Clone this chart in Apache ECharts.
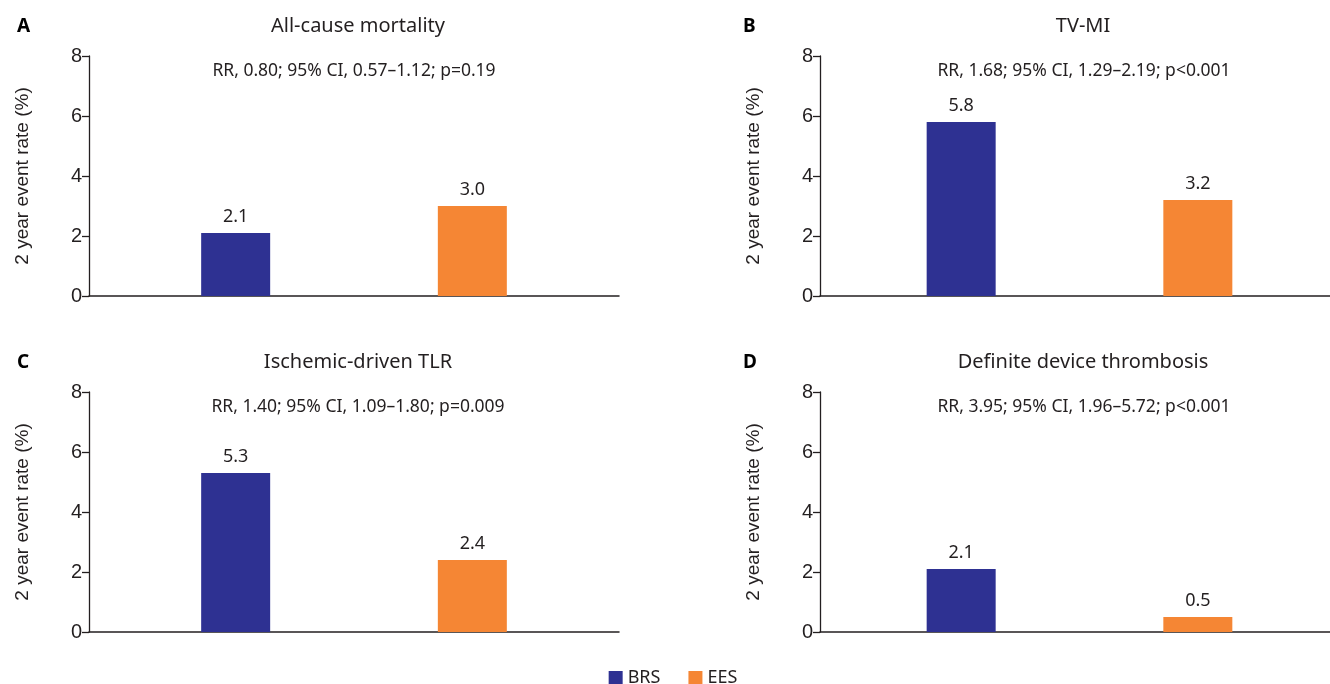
<!DOCTYPE html>
<html>
<head>
<meta charset="utf-8">
<script src="https://cdn.jsdelivr.net/npm/echarts@6/dist/echarts.min.js"></script>
<style>
html,body{margin:0;padding:0;background:#fff;overflow:hidden;}
#c{width:1346px;height:684px;}
</style>
</head>
<body>
<div id="c"></div>
<script>
var panelLetters = ['A', 'B', 'C', 'D'];
var panelTitles = ['All-cause mortality', 'TV-MI', 'Ischemic-driven TLR', 'Definite device thrombosis'];
var panelStats = [
  'RR, 0.80; 95% CI, 0.57\u20131.12; p=0.19',
  'RR, 1.68; 95% CI, 1.29\u20132.19; p<0.001',
  'RR, 1.40; 95% CI, 1.09\u20131.80; p=0.009',
  'RR, 3.95; 95% CI, 1.96\u20135.72; p<0.001'
];
var seriesNames = ['BRS', 'EES'];
var brsValues = [2.1, 5.8, 5.3, 2.1];
var eesValues = [3.0, 3.2, 2.4, 0.5];
var yAxisName = '2 year event rate (%)';
var yMin = 0, yMax = 8, yStep = 2;

var colors = {BRS: '#2E3192', EES: '#F58634'};
var gridLeft = [89, 820, 89, 820];
var gridW = [530, 519, 530, 519];
var gridTop = [56, 56, 392, 392];
var gridH = 240;
var letterX = [12, 738, 12, 738];
var titleY = [11, 11, 347, 347];
var statY = [57, 57, 393, 393];
var titleCx = [353, 1078, 353, 1078];
var statCx = [349, 1079, 353, 1079];
var textColor = '#231F20';

var grids = [], xAxes = [], yAxes = [], series = [], titles = [];
for (var i = 0; i < 4; i++) {
  grids.push({left: gridLeft[i], width: gridW[i], top: gridTop[i], height: gridH, containLabel: false});
  xAxes.push({
    type: 'category', gridIndex: i, data: [''],
    axisLine: {show: true, lineStyle: {color: '#231F20', width: 1.5}},
    axisTick: {show: false}, axisLabel: {show: false}, splitLine: {show: false}
  });
  yAxes.push({
    type: 'value', gridIndex: i, min: yMin, max: yMax, interval: yStep,
    name: yAxisName, nameLocation: 'middle', nameGap: 57, nameRotate: 90,
    nameTextStyle: {fontFamily: 'Liberation Sans', fontSize: 19, color: textColor},
    axisLine: {show: true, lineStyle: {color: '#231F20', width: 1.3}},
    axisTick: {show: true, length: 7, lineStyle: {color: '#231F20', width: 1.3}},
    axisLabel: {fontFamily: 'Liberation Sans', fontSize: 20, color: textColor, margin: 7},
    splitLine: {show: false}
  });
  var vals = [brsValues[i], eesValues[i]];
  for (var s = 0; s < 2; s++) {
    series.push({
      name: seriesNames[s], type: 'bar', xAxisIndex: i, yAxisIndex: i,
      data: [vals[s]], barWidth: 69, barGap: '243%',
      itemStyle: {color: colors[seriesNames[s]]},
      label: {show: true, position: 'top', distance: 7,
        fontFamily: 'Noto Sans', fontSize: 18, color: textColor,
        formatter: function (p) { return p.value.toFixed(1); }},
      animation: false
    });
  }
  titles.push({
    text: panelLetters[i], left: letterX[i], top: titleY[i] + 1,
    textStyle: {fontFamily: 'Noto Sans', fontWeight: 'bold', fontSize: 19, color: '#000'}
  });
  titles.push({
    text: panelTitles[i], left: titleCx[i], top: titleY[i], textAlign: 'center',
    textStyle: {fontFamily: 'Noto Sans', fontWeight: 'normal', fontSize: 20, color: textColor}
  });
  titles.push({
    text: panelStats[i], left: statCx[i], top: statY[i], textAlign: 'center',
    textStyle: {fontFamily: 'Noto Sans', fontWeight: 'normal', fontSize: 17.5, color: textColor}
  });
}

var chart = echarts.init(document.getElementById('c'), null, {renderer: 'canvas'});
chart.setOption({
  backgroundColor: '#fff',
  animation: false,
  title: titles,
  legend: {
    data: seriesNames, top: 664, left: 'center', itemWidth: 14, itemHeight: 14, itemGap: 28,
    icon: 'rect',
    textStyle: {fontFamily: 'Noto Sans', fontSize: 18, color: textColor}
  },
  grid: grids, xAxis: xAxes, yAxis: yAxes, series: series
});
</script>
</body>
</html>
